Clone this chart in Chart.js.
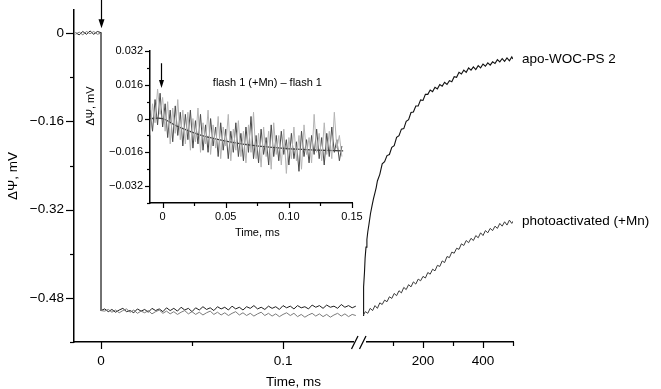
<!DOCTYPE html>
<html><head><meta charset="utf-8">
<script src="https://cdn.jsdelivr.net/npm/chart.js@4/dist/chart.umd.min.js"></script>
<style>
html,body{margin:0;padding:0;background:#fff;}
#wrap{position:relative;width:661px;height:389px;overflow:hidden;}
#wrap canvas{position:absolute;left:0;top:0;}
</style></head><body>
<div id="wrap">
<canvas id="mainLeft" width="661" height="389"></canvas>
<canvas id="mainRight" width="661" height="389"></canvas>
<canvas id="inset" width="661" height="389"></canvas>
</div>
<script>
// ---------------- DATA ----------------
const seriesNames = ['apo-WOC-PS 2', 'photoactivated (+Mn)'];
const insetLabel = 'flash 1 (+Mn) \u2013 flash 1';

// main chart, fast time window (time in microseconds, values in mV)
const preFlashTimeUs = [-14,-12,-10,-8,-6,-4,-2,0];
const preFlashApo = [0.001,-0.003,0.003,-0.002,0.004,-0.002,0.003,0.001];
const preFlashMn  = [-0.002,0.002,-0.003,0.003,-0.001,0.003,-0.002,0.000];

const postFlashTimeUs = [0,2,4,6,8,10,12,14,16,18,20,22,24,26,28,30,32,34,36,38,40,42,44,46,48,50,52,54,56,58,60,62,64,66,68,70,72,74,76,78,80,82,84,86,88,90,92,94,96,98,100,102,104,106,108,110,112,114,116,118,120,122,124,126,128,130,132,134,136,138,140];
const postFlashApo = [-0.503,
 -0.500,-0.505,-0.501,-0.506,-0.502,-0.499,-0.505,-0.503,-0.507,-0.500,
 -0.504,-0.501,-0.506,-0.499,-0.503,-0.500,-0.505,-0.498,-0.503,-0.499,
 -0.504,-0.497,-0.502,-0.499,-0.505,-0.498,-0.502,-0.496,-0.501,-0.498,
 -0.503,-0.496,-0.500,-0.497,-0.502,-0.495,-0.500,-0.497,-0.502,-0.496,
 -0.499,-0.494,-0.500,-0.497,-0.501,-0.495,-0.499,-0.496,-0.501,-0.494,
 -0.498,-0.495,-0.500,-0.494,-0.498,-0.496,-0.500,-0.493,-0.497,-0.494,
 -0.499,-0.493,-0.497,-0.495,-0.499,-0.492,-0.497,-0.494,-0.498,-0.495];
const postFlashMn = [-0.503,
 -0.504,-0.501,-0.506,-0.502,-0.507,-0.503,-0.500,-0.506,-0.502,-0.508,
 -0.504,-0.507,-0.503,-0.509,-0.505,-0.502,-0.508,-0.504,-0.509,-0.505,
 -0.510,-0.506,-0.503,-0.509,-0.505,-0.510,-0.506,-0.511,-0.507,-0.504,
 -0.510,-0.506,-0.511,-0.507,-0.512,-0.508,-0.505,-0.511,-0.507,-0.512,
 -0.508,-0.513,-0.509,-0.506,-0.512,-0.508,-0.513,-0.509,-0.514,-0.510,
 -0.507,-0.512,-0.508,-0.514,-0.510,-0.515,-0.511,-0.508,-0.513,-0.509,
 -0.514,-0.510,-0.515,-0.511,-0.508,-0.513,-0.509,-0.514,-0.510,-0.512];

// main chart, slow time window (time in ms)
const apoRiseTimeMs = [0,1,2,3,5,7,10,13,16,20,25,30,35,40,44,
 48,56,64,72,80,88,96,104,112,120,128,136,144,152,160,168,176,184,192,200,208,216,224,232,240,248,256,264,272,280,288,296,304,312,320,328,336,344,352,360,368,376,384,392,400,408,416,424,432,440,448,456,464,472,480,488,496,500];
const apoRise = [-0.512,-0.492,-0.474,-0.460,-0.433,-0.408,-0.388,-0.374,-0.360,-0.346,-0.327,-0.313,-0.300,-0.289,-0.280,
 -0.268,-0.256,-0.237,-0.233,-0.222,-0.220,-0.207,-0.204,-0.189,-0.186,-0.174,-0.173,-0.160,-0.157,-0.144,-0.143,-0.132,-0.132,-0.121,-0.122,
 -0.111,-0.111,-0.103,-0.106,-0.098,-0.101,-0.093,-0.096,-0.089,-0.093,-0.086,-0.088,-0.079,-0.080,-0.071,-0.074,-0.067,-0.071,-0.063,-0.067,
 -0.061,-0.066,-0.059,-0.063,-0.056,-0.060,-0.054,-0.058,-0.052,-0.055,-0.048,-0.052,-0.046,-0.051,-0.045,-0.050,-0.043,-0.047];

const mnRiseTimeMs = [0,8,16,24,32,40,48,56,64,72,80,88,96,104,112,120,128,136,144,152,160,168,176,184,192,200,208,216,224,232,240,248,256,264,272,280,288,296,304,312,320,328,336,344,352,360,368,376,384,392,400,408,416,424,432,440,448,456,464,472,480,488,496,500];
const mnRise = [-0.512,-0.505,-0.508,-0.499,-0.503,-0.494,-0.499,-0.489,-0.492,-0.484,-0.487,-0.478,-0.481,-0.472,-0.476,-0.467,
 -0.471,-0.461,-0.465,-0.456,-0.460,-0.451,-0.455,-0.446,-0.449,-0.441,-0.444,-0.434,-0.437,-0.428,-0.431,-0.421,
 -0.423,-0.413,-0.416,-0.405,-0.407,-0.397,-0.399,-0.390,-0.392,-0.382,-0.385,-0.376,-0.380,-0.372,-0.376,-0.367,
 -0.371,-0.362,-0.367,-0.358,-0.362,-0.354,-0.358,-0.350,-0.354,-0.345,-0.350,-0.342,-0.348,-0.339,-0.345,-0.341];

// inset: difference trace (time in microseconds)
const insetTimeUs = [-10,-8,-6,-4,-2,0,2,4,6,8,10,12,14,16,18,20,22,24,26,28,30,32,34,36,38,40,42,44,46,48,50,52,54,56,58,60,62,64,66,68,70,72,74,76,78,80,82,84,86,88,90,92,94,96,98,100,102,104,106,108,110,112,114,116,118,120,122,124,126,128,130,132,134,136,138,140,142];
const insetDark = [0.004,-0.006,0.009,-0.003,0.012,-0.004,0.007,-0.009,0.004,-0.011,0.006,-0.008,0.003,-0.013,0.002,-0.010,
 0.004,-0.014,-0.001,-0.012,0.002,-0.015,-0.003,-0.016,0.000,-0.013,-0.004,-0.018,-0.002,-0.015,-0.005,-0.019,
 -0.006,-0.016,-0.002,-0.018,-0.007,-0.020,-0.004,-0.016,0.001,-0.019,-0.008,-0.021,-0.005,-0.017,-0.009,-0.022,
 -0.003,-0.018,-0.008,-0.020,-0.006,-0.017,-0.010,-0.022,-0.007,-0.019,-0.011,-0.025,-0.006,-0.018,-0.010,-0.021,
 -0.008,-0.017,-0.005,-0.019,-0.009,-0.022,-0.007,-0.018,-0.004,-0.016,-0.010,-0.020,-0.013];
const insetLight = [-0.008,0.007,-0.002,0.014,0.002,0.010,-0.006,0.008,-0.012,0.005,-0.007,0.009,-0.010,0.004,-0.012,0.003,
 -0.015,0.000,-0.011,0.005,-0.016,-0.002,-0.012,0.004,-0.017,-0.003,-0.014,0.001,-0.019,-0.004,-0.013,0.002,
 -0.020,-0.005,-0.015,-0.001,-0.018,-0.006,-0.021,-0.003,-0.016,0.003,-0.019,-0.007,-0.023,-0.004,-0.018,-0.006,
 -0.024,-0.002,-0.017,-0.008,-0.022,-0.005,-0.026,-0.009,-0.019,-0.004,-0.020,-0.008,-0.024,-0.003,-0.017,-0.009,
 -0.021,0.002,-0.016,-0.007,-0.020,-0.002,-0.017,-0.006,-0.019,0.003,-0.014,-0.008,-0.018];
const fitTimeUs = [-10,0,10,20,30,40,50,60,70,80,90,100,110,120,130,143];
const fitValues = [0,0,-0.0032,-0.0057,-0.0078,-0.0094,-0.0107,-0.0118,-0.0126,-0.0133,-0.0138,-0.0143,-0.0146,-0.0149,-0.0151,-0.0153];

// ticks
const mainYMajor = [0,-0.16,-0.32,-0.48];
const mainYMinor = [-0.08,-0.24,-0.40,-0.56];
const fastXMajor = [0,0.1];
const fastXMinor = [0.05];
const slowXMajor = [200,400];
const slowXMinor = [100,300,500];
const insetYMajor = [0.032,0.016,0,-0.016,-0.032];
const insetYMinor = [0.024,0.008,-0.008,-0.024,-0.040];
const insetXMajor = [0,0.05,0.10,0.15];
const insetXMinor = [0.025,0.075,0.125];

// flash markers (ms)
const flashTime = 0;
const insetFlashTime = -0.0015;

// ---------------- RENDERING ----------------
const FONT = "'Liberation Sans', Arial, Helvetica, sans-serif";
Chart.defaults.font.family = FONT;
Chart.defaults.color = '#000';

const toPts = (t, v, k) => t.map((ti, i) => ({x: ti * k, y: v[i]}));
const minus = s => s.replace('-', '\u2212');
const noPad = s => { s.paddingTop = 0; s.paddingBottom = 0; s.paddingLeft = 0; s.paddingRight = 0; };

const tickMarks = {
  id: 'tickMarks',
  afterDraw(chart, args, opts) {
    const ctx = chart.ctx;
    ctx.save();
    ctx.strokeStyle = '#000';
    ctx.lineWidth = opts.width || 1.2;
    (opts.axes || []).forEach(a => {
      const s = chart.scales[a.id];
      const draw = (vals, len) => vals.forEach(v => {
        const p = Math.round(s.getPixelForValue(v)) + 0.5;
        ctx.beginPath();
        if (s.isHorizontal()) { ctx.moveTo(p, s.top); ctx.lineTo(p, s.top + len); }
        else { ctx.moveTo(s.right, p); ctx.lineTo(s.right - len, p); }
        ctx.stroke();
      });
      draw(a.major, a.majorLen);
      draw(a.minor, a.minorLen);
    });
    ctx.restore();
  }
};

function arrow(ctx, x, y0, y1, hw, hl) {
  ctx.save();
  ctx.strokeStyle = '#000'; ctx.fillStyle = '#000'; ctx.lineWidth = 1.2;
  ctx.beginPath(); ctx.moveTo(x, y0); ctx.lineTo(x, y1 - hl + 1); ctx.stroke();
  ctx.beginPath(); ctx.moveTo(x - hw, y1 - hl); ctx.lineTo(x + hw, y1 - hl); ctx.lineTo(x, y1); ctx.closePath(); ctx.fill();
  ctx.restore();
}

const lineDs = (data, color, w) => ({data, borderColor: color, borderWidth: w, pointRadius: 0, tension: 0, fill: false});

const noGrid = {display: false, drawTicks: false, tickLength: 0};
const axisBorder = {display: true, color: '#000', width: 1.5};

// ---- main, fast window ----
const leftChart = new Chart(document.getElementById('mainLeft'), {
  type: 'line',
  data: {datasets: [
    lineDs(toPts(preFlashTimeUs, preFlashMn, 0.001).concat(toPts(postFlashTimeUs, postFlashMn, 0.001)), '#7a7a7a', 1),
    lineDs(toPts(preFlashTimeUs, preFlashApo, 0.001).concat(toPts(postFlashTimeUs, postFlashApo, 0.001)), '#1e1e1e', 1)
  ]},
  options: {
    responsive: false, animation: false, events: [],
    layout: {padding: {top: 10, left: 0, right: 305, bottom: 0}},
    plugins: {
      legend: {display: false}, tooltip: {enabled: false},
      tickMarks: {axes: [
        {id: 'y', major: mainYMajor, minor: mainYMinor, majorLen: 8, minorLen: 4},
        {id: 'x', major: fastXMajor, minor: fastXMinor, majorLen: 7, minorLen: 4}
      ]}
    },
    scales: {
      x: {
        type: 'linear', min: -0.01484, max: 0.1401,
        grid: noGrid, border: axisBorder,
        afterBuildTicks: s => { s.ticks = fastXMajor.map(v => ({value: v})); },
        afterFit: s => { s.height = 47; noPad(s); },
        ticks: {padding: 11, autoSkip: false, maxRotation: 0, font: {size: 13.5},
          callback: v => v === 0 ? '0' : String(v)}
      },
      y: {
        min: -0.56, max: 0.042,
        grid: noGrid, border: axisBorder,
        afterBuildTicks: s => { s.ticks = mainYMajor.map(v => ({value: v})); },
        afterFit: s => { s.width = 74; noPad(s); },
        title: {display: true, text: '\u0394\u03A8, mV', font: {size: 13.5}, padding: {top: 5, bottom: 0}},
        ticks: {padding: 10, autoSkip: false, font: {size: 13.5},
          callback: v => v === 0 ? '0' : minus(v.toFixed(2))}
      }
    }
  },
  plugins: [tickMarks, {
    id: 'flashArrow',
    afterDraw(chart) {
      const x = Math.round(chart.scales.x.getPixelForValue(flashTime)) + 0.5;
      arrow(chart.ctx, x, 0, chart.scales.y.getPixelForValue(0.009), 3, 9);
    }
  }]
});

// ---- main, slow window ----
new Chart(document.getElementById('mainRight'), {
  type: 'line',
  data: {datasets: [
    lineDs(toPts(mnRiseTimeMs, mnRise, 1), '#3a3a3a', 1),
    lineDs(toPts(apoRiseTimeMs, apoRise, 1), '#111', 1.1)
  ]},
  options: {
    responsive: false, animation: false, events: [],
    layout: {padding: {top: 10, left: 363, right: 148, bottom: 0}},
    plugins: {
      legend: {display: false}, tooltip: {enabled: false},
      tickMarks: {axes: [
        {id: 'x', major: slowXMajor, minor: slowXMinor, majorLen: 6, minorLen: 4}
      ]}
    },
    scales: {
      x: {
        type: 'linear', min: 0, max: 500,
        grid: noGrid, border: axisBorder,
        afterBuildTicks: s => { s.ticks = slowXMajor.map(v => ({value: v})); },
        afterFit: s => { s.height = 47; noPad(s); },
        ticks: {padding: 11, autoSkip: false, maxRotation: 0, font: {size: 13.5}}
      },
      y: {min: -0.56, max: 0.042, display: false}
    }
  },
  plugins: [tickMarks, {
    id: 'slowNotes',
    afterDraw(chart) {
      const ctx = chart.ctx;
      ctx.save();
      // series labels at the end of each trace
      ctx.font = '13.5px ' + FONT; ctx.fillStyle = '#000'; ctx.textBaseline = 'middle'; ctx.textAlign = 'left';
      [1, 0].forEach((di, k) => {
        const pts = chart.getDatasetMeta(di).data;
        const last = pts[pts.length - 1];
        ctx.fillText(seriesNames[k], last.x + 9, last.y);
      });
      // axis break
      const yb = chart.scales.x.top;
      ctx.fillStyle = '#fff';
      ctx.fillRect(354, yb - 4, 12, 8);
      ctx.strokeStyle = '#000'; ctx.lineWidth = 1.2;
      ctx.beginPath(); ctx.moveTo(351.5, yb + 7); ctx.lineTo(358, yb - 6); ctx.stroke();
      ctx.beginPath(); ctx.moveTo(359.5, yb + 7); ctx.lineTo(366, yb - 6); ctx.stroke();
      // common x-axis title
      ctx.fillStyle = '#000'; ctx.textAlign = 'center';
      ctx.fillText('Time, ms', (leftChart.chartArea.left + chart.chartArea.right) / 2, 382);
      ctx.restore();
    }
  }]
});

// ---- inset ----
new Chart(document.getElementById('inset'), {
  type: 'line',
  data: {datasets: [
    lineDs(toPts(insetTimeUs, insetLight, 0.001), '#b4b4b4', 1),
    lineDs(toPts(insetTimeUs, insetDark, 0.001), '#4a4a4a', 1),
    Object.assign(lineDs(toPts(fitTimeUs, fitValues, 0.001), '#3a3a3a', 1.3), {tension: 0.4})
  ]},
  options: {
    responsive: false, animation: false, events: [],
    layout: {padding: {top: 51, left: 90, right: 309, bottom: 146}},
    plugins: {
      legend: {display: false}, tooltip: {enabled: false},
      tickMarks: {axes: [
        {id: 'y', major: insetYMajor, minor: insetYMinor, majorLen: 5, minorLen: 3},
        {id: 'x', major: insetXMajor, minor: insetXMinor, majorLen: 5, minorLen: 3}
      ]}
    },
    scales: {
      x: {
        type: 'linear', min: -0.01, max: 0.15,
        grid: noGrid, border: axisBorder,
        afterBuildTicks: s => { s.ticks = insetXMajor.map(v => ({value: v})); },
        afterFit: s => { s.height = 40; noPad(s); },
        ticks: {padding: 7, autoSkip: false, maxRotation: 0, font: {size: 11},
          callback: v => v === 0 ? '0' : v.toFixed(2)}
      },
      y: {
        min: -0.04, max: 0.032,
        grid: noGrid, border: axisBorder,
        afterBuildTicks: s => { s.ticks = insetYMajor.map(v => ({value: v})); },
        afterFit: s => { s.width = 60; noPad(s); },
        ticks: {padding: 7, autoSkip: false, font: {size: 11},
          callback: v => v === 0 ? '0' : minus(v.toFixed(3))}
      }
    }
  },
  plugins: [tickMarks, {
    id: 'insetNotes',
    afterDraw(chart) {
      const ctx = chart.ctx, xs = chart.scales.x, ys = chart.scales.y;
      arrow(ctx, Math.round(xs.getPixelForValue(insetFlashTime)) + 0.5, ys.getPixelForValue(0.0262), ys.getPixelForValue(0.0145), 2.5, 8);
      ctx.save();
      ctx.font = '11px ' + FONT; ctx.fillStyle = '#000'; ctx.textBaseline = 'middle'; ctx.textAlign = 'center';
      ctx.fillText(insetLabel, xs.getPixelForValue(0.083), ys.getPixelForValue(0.0169));
      ctx.fillText('Time, ms', xs.getPixelForValue(0.075), 233);
      ctx.translate(chart.chartArea.left - 59, 106);
      ctx.rotate(-Math.PI / 2);
      ctx.fillText('\u0394\u03A8, mV', 0, 0);
      ctx.restore();
    }
  }]
});
</script>
</body></html>
